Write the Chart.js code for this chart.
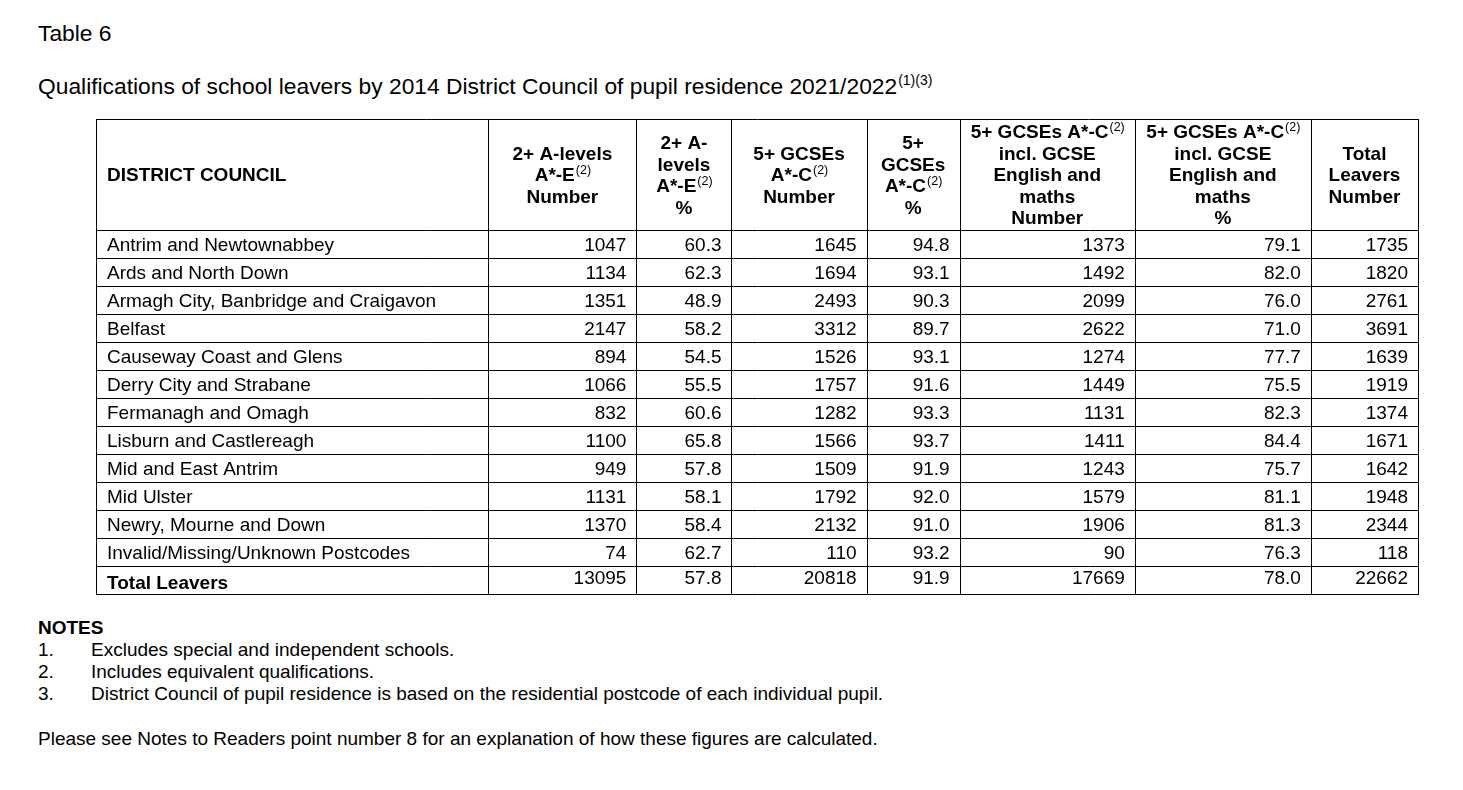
<!DOCTYPE html>
<html lang="en">

<head>
    <meta charset="UTF-8">
    <meta name="viewport" content="width=device-width, initial-scale=1.0">
    <script src="https://cdn.jsdelivr.net/npm/chart.js@4.4.0/dist/chart.umd.min.js"></script>
    <title>Table 6</title>
    <style>
        body { margin: 0; background: #fff; color: #000; font-family: Arial, "Liberation Sans", sans-serif; }
        .page { position: relative; width: 1463px; height: 790px; overflow: hidden; }
        .txt { position: absolute; left: 38px; line-height: 1; white-space: nowrap; }
        .title { font-size: 22.8px; }
        .title sup { font-size: 14px; vertical-align: 9px; line-height: 0; margin-left: 1px; }
        .note { font-size: 19px; }
        .note .num { display: inline-block; width: 53px; }
        .wrap { position: absolute; left: 94px; top: 117px; width: 1326px; height: 479px; }
    </style>
</head>

<body>
    <div class="page">
        <div class="txt title" style="top:22px">Table 6</div>
        <div class="txt title" style="top:75px">Qualifications of school leavers by 2014 District Council of pupil residence 2021/2022<sup>(1)(3)</sup></div>

        <div class="wrap"><canvas id="tableChart"></canvas></div>

        <div class="txt note" style="top:618px;font-weight:bold">NOTES</div>
        <div class="txt note" style="top:640px"><span class="num">1.</span>Excludes special and independent schools.</div>
        <div class="txt note" style="top:662px"><span class="num">2.</span>Includes equivalent qualifications.</div>
        <div class="txt note" style="top:684px"><span class="num">3.</span>District Council of pupil residence is based on the residential postcode of each individual pupil.</div>
        <div class="txt note" style="top:729px">Please see Notes to Readers point number 8 for an explanation of how these figures are calculated.</div>
    </div>

    <script>
        // Table 6 - school leavers by district council, 2021/22
        var districts = ['Antrim and Newtownabbey', 'Ards and North Down', 'Armagh City, Banbridge and Craigavon',
            'Belfast', 'Causeway Coast and Glens', 'Derry City and Strabane', 'Fermanagh and Omagh',
            'Lisburn and Castlereagh', 'Mid and East Antrim', 'Mid Ulster', 'Newry, Mourne and Down',
            'Invalid/Missing/Unknown Postcodes'];
        var aLevelNumber = [1047, 1134, 1351, 2147, 894, 1066, 832, 1100, 949, 1131, 1370, 74];
        var aLevelPct = [60.3, 62.3, 48.9, 58.2, 54.5, 55.5, 60.6, 65.8, 57.8, 58.1, 58.4, 62.7];
        var gcseNumber = [1645, 1694, 2493, 3312, 1526, 1757, 1282, 1566, 1509, 1792, 2132, 110];
        var gcsePct = [94.8, 93.1, 90.3, 89.7, 93.1, 91.6, 93.3, 93.7, 91.9, 92.0, 91.0, 93.2];
        var gcseEngMathsNumber = [1373, 1492, 2099, 2622, 1274, 1449, 1131, 1411, 1243, 1579, 1906, 90];
        var gcseEngMathsPct = [79.1, 82.0, 76.0, 71.0, 77.7, 75.5, 82.3, 84.4, 75.7, 81.1, 81.3, 76.3];
        var totalLeavers = [1735, 1820, 2761, 3691, 1639, 1919, 1374, 1671, 1642, 1948, 2344, 118];
        var totalLabel = 'Total Leavers';
        var totalRow = [13095, 57.8, 20818, 91.9, 17669, 78.0, 22662];

        // header lines, '^' starts a superscript
        var columnHeaders = [
            ['DISTRICT COUNCIL'],
            ['2+ A-levels', 'A*-E^(2)', 'Number'],
            ['2+ A-', 'levels', 'A*-E^(2)', '%'],
            ['5+ GCSEs', 'A*-C^(2)', 'Number'],
            ['5+', 'GCSEs', 'A*-C^(2)', '%'],
            ['5+ GCSEs A*-C^(2)', 'incl. GCSE', 'English and', 'maths', 'Number'],
            ['5+ GCSEs A*-C^(2)', 'incl. GCSE', 'English and', 'maths', '%'],
            ['Total', 'Leavers', 'Number']
        ];
        var isPercent = [false, true, false, true, false, true, false];

        // layout
        var colWidths = [392, 148, 95, 135, 93, 175, 176, 107];
        var headerRows = 3.98;
        var FONT = 'Arial, "Liberation Sans", sans-serif';

        var colEdges = [0];
        colWidths.forEach(function (w, i) { colEdges.push(colEdges[i] + w); });

        var rows = districts.map(function (d, i) {
            return [d, aLevelNumber[i], aLevelPct[i], gcseNumber[i], gcsePct[i],
                gcseEngMathsNumber[i], gcseEngMathsPct[i], totalLeavers[i]];
        });
        rows.push([totalLabel].concat(totalRow));

        function crisp(v) { return Math.round(v) + 0.5; }

        function drawHeaderLine(ctx, text, x, y, align) {
            var parts = text.split('^');
            ctx.font = 'bold 19px ' + FONT;
            var w1 = ctx.measureText(parts[0]).width;
            var w2 = 0;
            if (parts[1]) {
                ctx.font = '12.5px ' + FONT;
                w2 = ctx.measureText(parts[1]).width;
            }
            var start = align === 'left' ? x : x - (w1 + w2) / 2;
            ctx.textAlign = 'left';
            ctx.font = 'bold 19px ' + FONT;
            ctx.fillText(parts[0], start, y);
            if (parts[1]) {
                ctx.font = '12.5px ' + FONT;
                ctx.fillText(parts[1], start + w1 + 1, y - 7);
            }
        }

        var tablePlugin = {
            id: 'tableCells',
            afterDraw: function (chart) {
                var ctx = chart.ctx;
                var xs = chart.scales.x, ys = chart.scales.y;
                var nRows = rows.length;
                ctx.save();
                ctx.fillStyle = '#000';
                ctx.strokeStyle = '#000';
                ctx.lineWidth = 1;
                ctx.textBaseline = 'alphabetic';

                // grid
                var top = ys.getPixelForValue(0), bottom = ys.getPixelForValue(headerRows + nRows);
                var left = xs.getPixelForValue(0), right = xs.getPixelForValue(colEdges[colEdges.length - 1]);
                ctx.beginPath();
                colEdges.forEach(function (e) {
                    var px = crisp(xs.getPixelForValue(e));
                    ctx.moveTo(px, top);
                    ctx.lineTo(px, bottom + 0.5);
                });
                var hLines = [0];
                for (var r = 0; r <= nRows; r++) hLines.push(headerRows + r);
                hLines.forEach(function (v) {
                    var py = crisp(ys.getPixelForValue(v));
                    ctx.moveTo(left, py);
                    ctx.lineTo(right + 1, py);
                });
                ctx.stroke();

                // header
                var hMid = ys.getPixelForValue(headerRows / 2);
                var gap = 21.5, cap = 13.6;
                columnHeaders.forEach(function (lines, c) {
                    var first = hMid - (lines.length - 1) * gap / 2 + cap / 2;
                    var cx = c === 0 ? xs.getPixelForValue(colEdges[0]) + 11
                        : xs.getPixelForValue((colEdges[c] + colEdges[c + 1]) / 2);
                    lines.forEach(function (t, k) {
                        drawHeaderLine(ctx, t, cx, first + k * gap, c === 0 ? 'left' : 'center');
                    });
                });

                // body
                rows.forEach(function (row, r) {
                    var isTotal = r === nRows - 1;
                    var mid = ys.getPixelForValue(headerRows + r + 0.5);
                    row.forEach(function (val, c) {
                        if (c === 0) {
                            ctx.font = (isTotal ? 'bold ' : '') + '19px ' + FONT;
                            ctx.textAlign = 'left';
                            ctx.fillText(val, xs.getPixelForValue(colEdges[0]) + 11, mid + 6.8 + (isTotal ? 2.5 : 0));
                        } else {
                            ctx.font = '19px ' + FONT;
                            ctx.textAlign = 'right';
                            var txt = isPercent[c - 1] ? val.toFixed(1) : String(val);
                            ctx.fillText(txt, xs.getPixelForValue(colEdges[c + 1]) - 10, mid + 6.8 - (isTotal ? 3 : 0));
                        }
                    });
                });
                ctx.restore();
            }
        };

        new Chart(document.getElementById('tableChart'), {
            type: 'scatter',
            data: { datasets: [] },
            options: {
                responsive: true,
                maintainAspectRatio: false,
                animation: false,
                events: [],
                layout: { padding: 2 },
                plugins: { legend: { display: false }, tooltip: { enabled: false } },
                scales: {
                    x: { type: 'linear', display: false, min: 0, max: colEdges[colEdges.length - 1] },
                    y: { type: 'linear', display: false, reverse: true, min: 0, max: headerRows + rows.length }
                }
            },
            plugins: [tablePlugin]
        });
    </script>
</body>

</html>
